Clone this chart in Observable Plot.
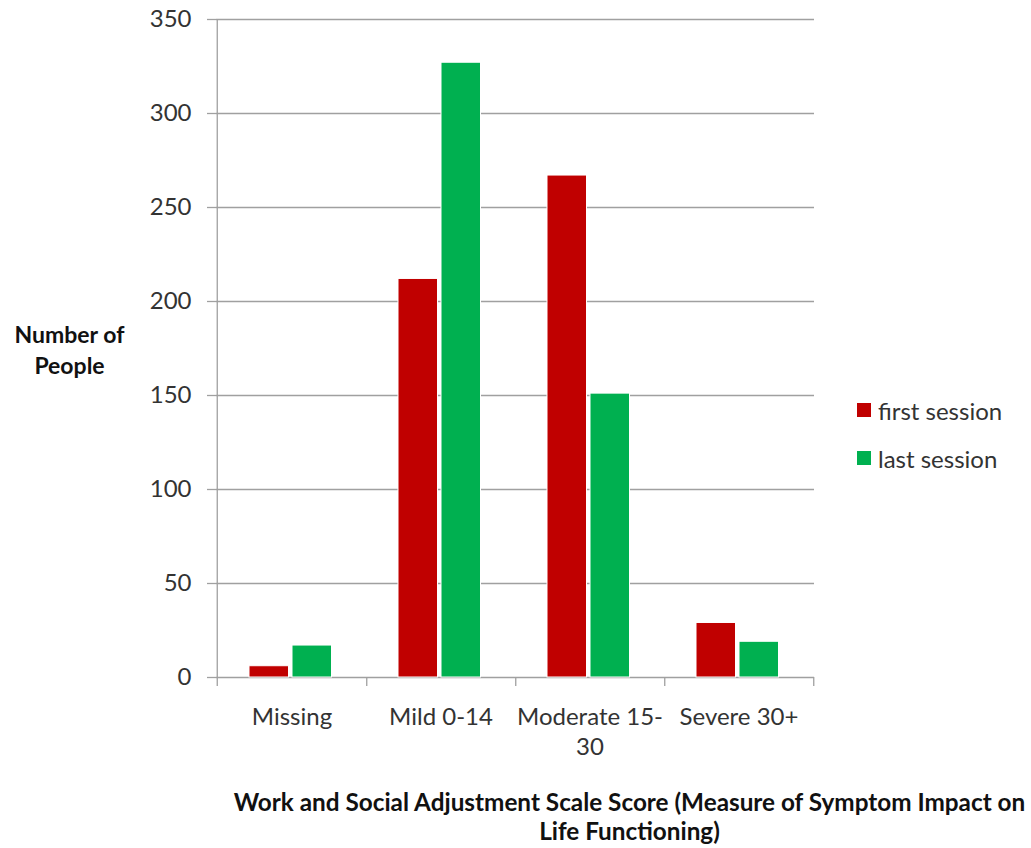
<!DOCTYPE html>
<html>
<head>
<meta charset="utf-8">
<script src="https://cdn.jsdelivr.net/npm/d3@7"></script>
<script src="https://cdn.jsdelivr.net/npm/@observablehq/plot@0.6"></script>
<style>
  html, body { margin: 0; padding: 0; background: white; }
  #wrap { position: relative; width: 1031px; height: 848px; }
  #legend { position: absolute; left: 857px; top: 394px; font-family: Lato, sans-serif; font-size: 24px; color: #333; }
  #legend .row { display: flex; align-items: center; height: 32px; margin-bottom: 16px; }
  #legend .sw { width: 14px; height: 14px; margin-right: 7px; }
</style>
</head>
<body>
<div id="wrap"></div>
<script>
const categories = ["Missing", "Mild 0-14", "Moderate 15-30", "Severe 30+"];
const xTickLabels = ["Missing", "Mild 0-14", "Moderate 15-\n30", "Severe 30+"];
const firstSession = [6, 212, 267, 29];
const lastSession = [17, 327, 151, 19];
const seriesNames = ["first session", "last session"];
const seriesColors = ["#C00000", "#00B050"];
const yTicks = [0, 50, 100, 150, 200, 250, 300, 350];
const yTitle = "Number of\nPeople";
const xTitle = "Work and Social Adjustment Scale Score (Measure of Symptom Impact on\nLife Functioning)";

const rows = categories.flatMap((c, i) => [
  {category: c, series: seriesNames[0], value: firstSession[i]},
  {category: c, series: seriesNames[1], value: lastSession[i]}
]);

const W = 1031, H = 848;
const mL = 216, mR = 217, mT = 19, mB = 171;
const bw = (W - mL - mR) / categories.length;
const axisGray = "#a0a0a0";

const chart = Plot.plot({
  width: W, height: H,
  marginTop: mT, marginBottom: mB, marginLeft: mL, marginRight: mR,
  style: {fontFamily: "Lato, sans-serif", fontSize: "24px", color: "#333", background: "white", overflow: "visible"},
  x: {domain: categories, padding: 0, axis: null, label: null},
  y: {domain: [0, 350], axis: null, label: null},
  color: {domain: seriesNames, range: seriesColors},
  marks: [
    Plot.gridY(yTicks, {stroke: axisGray, strokeOpacity: 1, strokeWidth: 1.3}),
    Plot.axisY({ticks: yTicks, tickSize: 9, tickPadding: 16, stroke: axisGray, fill: "#333", fontSize: 24, strokeWidth: 1.3, label: null}),
    Plot.ruleX([categories[0]], {x: d => d, dx: -bw / 2, y1: -4.8, y2: 350, stroke: axisGray, strokeWidth: 1.3}),
    Plot.ruleX(categories, {x: d => d, dx: bw / 2, y1: -4.8, y2: 0, stroke: axisGray, strokeWidth: 1.3}),
    Plot.barY(rows.filter(d => d.series === seriesNames[0]), {x: "category", y: "value", fill: "series", insetLeft: 32, insetRight: bw - 72, stroke: "white", strokeWidth: 1}),
    Plot.barY(rows.filter(d => d.series === seriesNames[1]), {x: "category", y: "value", fill: "series", insetLeft: 75, insetRight: bw - 115, stroke: "white", strokeWidth: 1}),
    Plot.axisX({tickSize: 0, tickPadding: 27, tickFormat: (d) => xTickLabels[categories.indexOf(d)], fill: "#333", fontSize: 24, lineHeight: 1.22, label: null}),
    Plot.text([yTitle], {frameAnchor: "left", dx: -147, textAnchor: "middle", lineAnchor: "middle", fontWeight: "bold", fontSize: 23, lineHeight: 1.35, fill: "#111"}),
    Plot.text([xTitle], {frameAnchor: "bottom", dx: 114, dy: 112, textAnchor: "middle", lineAnchor: "top", fontWeight: "bold", fontSize: 24.3, lineHeight: 1.22, fill: "#111"})
  ]
});

const wrap = document.getElementById("wrap");
wrap.appendChild(chart);
const legend = document.createElement("div");
legend.id = "legend";
seriesNames.forEach((name, i) => {
  const row = document.createElement("div");
  row.className = "row";
  const sw = document.createElement("div");
  sw.className = "sw";
  sw.style.background = seriesColors[i];
  const label = document.createElement("span");
  label.textContent = name;
  row.appendChild(sw);
  row.appendChild(label);
  legend.appendChild(row);
});
wrap.appendChild(legend);
</script>
</body>
</html>
